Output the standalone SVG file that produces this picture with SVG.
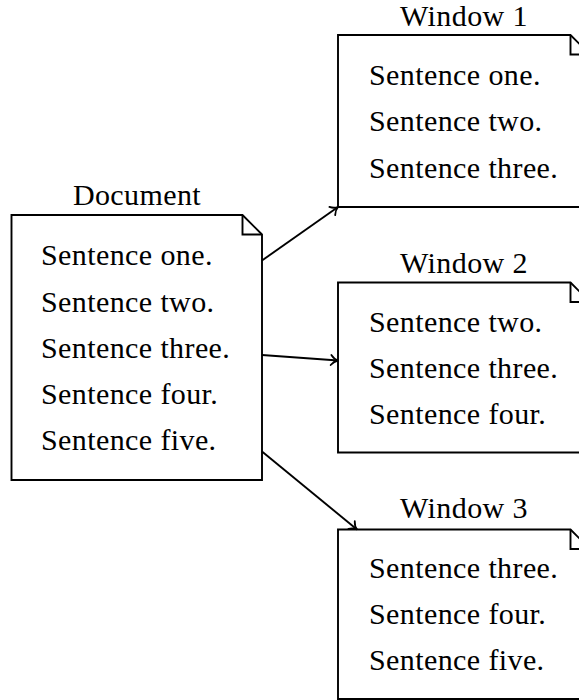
<svg xmlns="http://www.w3.org/2000/svg" width="579" height="700" viewBox="0 0 579 700">
<defs>
<style>
text{font-family:"Liberation Serif","DejaVu Serif","Times New Roman",serif;font-size:30px;fill:#000;letter-spacing:0.4px}
.lbl{text-anchor:middle}
.box{fill:#fff;stroke:#000;stroke-width:1.9;stroke-linejoin:miter}
.fold{fill:none;stroke:#000;stroke-width:1.9}
.edge{fill:none;stroke:#000;stroke-width:1.9}
</style>
<marker id="arr" markerWidth="14" markerHeight="14" refX="10" refY="7" orient="auto" markerUnits="userSpaceOnUse">
<path d="M3,2 Q6,6 10,7 Q6,8 3,12" fill="none" stroke="#000" stroke-width="1.8" stroke-linecap="round"/>
</marker>
</defs>
<g id="document">
<text class="lbl" x="137" y="205" font-family="Liberation Serif, serif">Document</text>
<path class="box" d="M11.5,215 H242.5 L262,234.5 V480 H11.5 Z"/>
<path class="fold" d="M242.5,215 V234.5 H262"/>
<text x="41" y="265">Sentence one.</text>
<text x="41" y="311.5">Sentence two.</text>
<text x="41" y="357.5">Sentence three.</text>
<text x="41" y="403.5">Sentence four.</text>
<text x="41" y="450">Sentence five.</text>
</g>
<g id="window1">
<text class="lbl" x="464" y="26">Window 1</text>
<path class="box" d="M338,35 H570.5 L590,54.5 V207 H338 Z"/>
<path class="fold" d="M570.5,35 V54.5 H590"/>
<text x="369" y="84.5">Sentence one.</text>
<text x="369" y="131">Sentence two.</text>
<text x="369" y="177.5">Sentence three.</text>
</g>
<g id="window2">
<text class="lbl" x="464" y="273">Window 2</text>
<path class="box" d="M338,282.5 H570.5 L590,302 V452.5 H338 Z"/>
<path class="fold" d="M570.5,282.5 V302 H590"/>
<text x="369" y="331.5">Sentence two.</text>
<text x="369" y="378">Sentence three.</text>
<text x="369" y="424">Sentence four.</text>
</g>
<g id="window3">
<text class="lbl" x="464" y="518">Window 3</text>
<path class="box" d="M338,529.5 H570.5 L590,549 V699 H338 Z"/>
<path class="fold" d="M570.5,529.5 V549 H590"/>
<text x="369" y="577.5">Sentence three.</text>
<text x="369" y="623.5">Sentence four.</text>
<text x="369" y="669.5">Sentence five.</text>
</g>
<g id="connectors">
<line class="edge" x1="262" y1="260.5" x2="338" y2="207" marker-end="url(#arr)"/>
<line class="edge" x1="262" y1="355" x2="338" y2="360.5" marker-end="url(#arr)"/>
<line class="edge" x1="262" y1="451.5" x2="357" y2="529.5" marker-end="url(#arr)"/>
</g>
</svg>
